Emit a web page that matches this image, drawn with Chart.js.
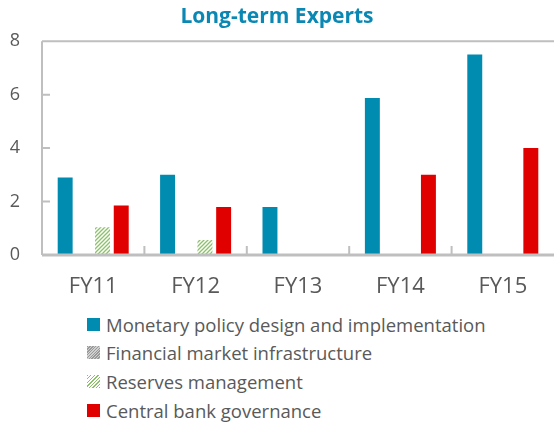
<!DOCTYPE html>
<html>
<head>
<meta charset="utf-8">
<script src="https://cdn.jsdelivr.net/npm/chart.js@4"></script>
<style>
  html, body { margin: 0; padding: 0; background: #fff; }
  #wrap { position: relative; width: 554px; height: 424px; }
  #chartBox { position: absolute; left: 0; top: 0; width: 554px; height: 300px; }
  #legend { position: absolute; left: 87px; top: 310px; font-family: "Open Sans", sans-serif; font-size: 18.5px; color: #595959; }
  .item { height: 28.6px; display: flex; align-items: center; white-space: nowrap; }
  .box { width: 13px; height: 13px; margin-right: 6px; flex: none; }
</style>
</head>
<body>
<div id="wrap">
  <div id="chartBox"><canvas id="mainChart"></canvas></div>
  <div id="legend"></div>
</div>
<script>
// Chart data
const years = ['FY11', 'FY12', 'FY13', 'FY14', 'FY15'];
const monetaryPolicy = [2.9, 3.0, 1.8, 5.87, 7.5];
const marketInfra = [0, 0, 0, 0, 0];
const reservesMgmt = [1.04, 0.56, 0, 0, 0];
const cbGovernance = [1.85, 1.8, 0, 3.0, 4.0];
const yTicks = [0, 2, 4, 6, 8];

const TEAL = '#008BB0';
const RED = '#E00000';
const AXIS = '#BFBFBF';

function hatch(lineColor) {
    const c = document.createElement('canvas');
    c.width = 4; c.height = 4;
    const g = c.getContext('2d');
    g.fillStyle = '#fff';
    g.fillRect(0, 0, 4, 4);
    g.strokeStyle = lineColor;
    g.lineWidth = 1.3;
    g.beginPath();
    g.moveTo(0, 4); g.lineTo(4, 0);
    g.moveTo(-1, 1); g.lineTo(1, -1);
    g.moveTo(3, 5); g.lineTo(5, 3);
    g.stroke();
    return g.createPattern(c, 'repeat');
}

// inward tick marks + frame lines
const axisMarks = {
    id: 'axisMarks',
    afterDraw(chart) {
        const { ctx, chartArea, scales } = chart;
        const y = scales.y;
        ctx.save();
        ctx.strokeStyle = AXIS;
        ctx.lineWidth = 2;
        ctx.beginPath();
        // top line
        ctx.moveTo(chartArea.left, chartArea.top);
        ctx.lineTo(chartArea.right, chartArea.top);
        // left axis
        ctx.moveTo(chartArea.left, chartArea.top);
        ctx.lineTo(chartArea.left, chartArea.bottom);
        // y tick marks inward
        yTicks.forEach(v => {
            const py = y.getPixelForValue(v);
            ctx.moveTo(chartArea.left, py);
            ctx.lineTo(chartArea.left + 8, py);
        });
        // category boundary ticks
        const step = (chartArea.right - chartArea.left) / years.length;
        for (let i = 1; i < years.length; i++) {
            const px = chartArea.left + step * i;
            ctx.moveTo(px, chartArea.bottom);
            ctx.lineTo(px, chartArea.bottom - 9);
        }
        ctx.stroke();
        // baseline
        ctx.lineWidth = 3;
        ctx.beginPath();
        ctx.moveTo(chartArea.left, chartArea.bottom);
        ctx.lineTo(chartArea.right, chartArea.bottom);
        ctx.stroke();
        ctx.restore();
    }
};

const datasets = [
    { label: 'Monetary policy design and implementation', data: monetaryPolicy, backgroundColor: TEAL, legendBg: TEAL },
    { label: 'Financial market infrastructure', data: marketInfra, backgroundColor: hatch('#999999'),
      legendBg: 'repeating-linear-gradient(135deg, #9A9A9A 0 1px, #D0D0D0 1px 2px)' },
    { label: 'Reserves management', data: reservesMgmt, backgroundColor: hatch('#8CC16A'),
      legendBg: 'repeating-linear-gradient(135deg, #8CC16A 0 1px, #fff 1px 2.5px)' },
    { label: 'Central bank governance', data: cbGovernance, backgroundColor: RED, legendBg: RED }
];

new Chart(document.getElementById('mainChart').getContext('2d'), {
    type: 'bar',
    data: {
        labels: years,
        datasets: datasets.map(d => ({
            label: d.label, data: d.data, backgroundColor: d.backgroundColor,
            borderWidth: 0, barPercentage: 0.8, categoryPercentage: 0.73
        }))
    },
    options: {
        responsive: true,
        maintainAspectRatio: false,
        animation: false,
        layout: { padding: 0 },
        plugins: {
            legend: { display: false },
            tooltip: { enabled: false },
            title: {
                display: true,
                text: 'Long-term Experts',
                color: '#0A88B3',
                font: { family: 'Open Sans', size: 21, weight: 'bold' },
                padding: { top: 4, bottom: 12 }
            }
        },
        scales: {
            x: {
                grid: { display: false },
                border: { display: false },
                ticks: { color: '#595959', font: { family: 'Open Sans', size: 22 }, padding: 11 },
                afterFit(s) { s.height = 45; }
            },
            y: {
                min: 0, max: 8,
                afterBuildTicks(s) { s.ticks = yTicks.map(v => ({ value: v })); },
                grid: { display: false },
                border: { display: false },
                ticks: { color: '#595959', font: { family: 'Open Sans', size: 18 }, padding: 14 },
                afterFit(s) { s.width = 42; }
            }
        }
    },
    plugins: [axisMarks]
});

document.getElementById('legend').innerHTML = datasets.map(d => `
    <div class="item"><span class="box" style="background:${d.legendBg}"></span>${d.label}</div>
`).join('');
</script>
</body>
</html>
